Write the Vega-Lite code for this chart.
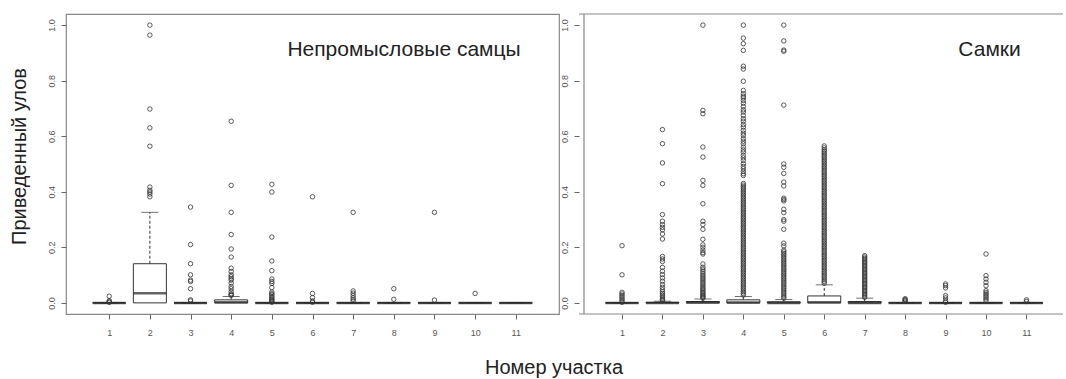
{
  "$schema": "https://vega.github.io/schema/vega-lite/v6.json",
  "background": "white",
  "padding": {"left": 8, "top": 13, "right": 0, "bottom": 0},
  "spacing": 0,
  "config": {
    "font": "Liberation Sans",
    "view": {"stroke": "#888", "strokeWidth": 1.2},
    "axis": {"grid": false, "domain": false, "tickSize": 5, "tickColor": "#666", "labelFontSize": 9, "labelColor": "#555", "titleFontWeight": "normal", "titleColor": "#222"}
  },
  "title": {"text": "Номер участка", "orient": "bottom", "anchor": "middle", "fontSize": 20, "fontWeight": "normal", "color": "#222", "offset": 20, "dx": 18},
  "datasets": {
    "one": [{"k": 1}],
    "boxL": [
      {"s": 1, "q1": 0, "med": 0, "q3": 0, "hi": 0},
      {"s": 2, "q1": 0, "med": 0.035, "q3": 0.141, "hi": 0.326},
      {"s": 3, "q1": 0, "med": 0, "q3": 0, "hi": 0},
      {"s": 4, "q1": 0, "med": 0.002, "q3": 0.011, "hi": 0.023},
      {"s": 5, "q1": 0, "med": 0, "q3": 0, "hi": 0},
      {"s": 6, "q1": 0, "med": 0, "q3": 0, "hi": 0},
      {"s": 7, "q1": 0, "med": 0, "q3": 0, "hi": 0},
      {"s": 8, "q1": 0, "med": 0, "q3": 0, "hi": 0},
      {"s": 9, "q1": 0, "med": 0, "q3": 0, "hi": 0},
      {"s": 10, "q1": 0, "med": 0, "q3": 0, "hi": 0},
      {"s": 11, "q1": 0, "med": 0, "q3": 0, "hi": 0}
    ],
    "boxR": [
      {"s": 1, "q1": 0, "med": 0, "q3": 0, "hi": 0},
      {"s": 2, "q1": 0, "med": 0, "q3": 0.002, "hi": 0.006},
      {"s": 3, "q1": 0, "med": 0.001, "q3": 0.005, "hi": 0.014},
      {"s": 4, "q1": 0, "med": 0.001, "q3": 0.011, "hi": 0.023},
      {"s": 5, "q1": 0, "med": 0, "q3": 0.004, "hi": 0.012},
      {"s": 6, "q1": 0, "med": 0.002, "q3": 0.025, "hi": 0.065},
      {"s": 7, "q1": 0, "med": 0, "q3": 0.005, "hi": 0.017},
      {"s": 8, "q1": 0, "med": 0, "q3": 0, "hi": 0},
      {"s": 9, "q1": 0, "med": 0, "q3": 0, "hi": 0},
      {"s": 10, "q1": 0, "med": 0, "q3": 0, "hi": 0},
      {"s": 11, "q1": 0, "med": 0, "q3": 0, "hi": 0}
    ],
    "outL": [
      {"s": 1, "v": 0.024}, {"s": 1, "v": 0.008}, {"s": 1, "v": 0.004}, {"s": 1, "v": 0.002},
      {"s": 2, "v": 0.382}, {"s": 2, "v": 0.392}, {"s": 2, "v": 0.399}, {"s": 2, "v": 0.405}, {"s": 2, "v": 0.417}, {"s": 2, "v": 0.564}, {"s": 2, "v": 0.63}, {"s": 2, "v": 0.698}, {"s": 2, "v": 0.964}, {"s": 2, "v": 1.0},
      {"s": 3, "v": 0.345}, {"s": 3, "v": 0.21}, {"s": 3, "v": 0.141}, {"s": 3, "v": 0.101}, {"s": 3, "v": 0.082}, {"s": 3, "v": 0.077}, {"s": 3, "v": 0.051}, {"s": 3, "v": 0.011}, {"s": 3, "v": 0.007},
      {"s": 4, "v": 0.654}, {"s": 4, "v": 0.423}, {"s": 4, "v": 0.326}, {"s": 4, "v": 0.246}, {"s": 4, "v": 0.194}, {"s": 4, "v": 0.165}, {"s": 4, "v": 0.125}, {"s": 4, "v": 0.113}, {"s": 4, "v": 0.101}, {"s": 4, "v": 0.094}, {"s": 4, "v": 0.087}, {"s": 4, "v": 0.082}, {"s": 4, "v": 0.071}, {"s": 4, "v": 0.059}, {"s": 4, "v": 0.051}, {"s": 4, "v": 0.041}, {"s": 4, "v": 0.033}, {"s": 4, "v": 0.029}, {"s": 4, "v": 0.027},
      {"s": 5, "v": 0.427}, {"s": 5, "v": 0.399}, {"s": 5, "v": 0.237}, {"s": 5, "v": 0.151}, {"s": 5, "v": 0.116}, {"s": 5, "v": 0.086}, {"s": 5, "v": 0.077}, {"s": 5, "v": 0.07}, {"s": 5, "v": 0.055}, {"s": 5, "v": 0.039}, {"s": 5, "v": 0.033}, {"s": 5, "v": 0.029}, {"s": 5, "v": 0.023}, {"s": 5, "v": 0.019}, {"s": 5, "v": 0.013}, {"s": 5, "v": 0.01}, {"s": 5, "v": 0.006}, {"s": 5, "v": 0.002},
      {"s": 6, "v": 0.382}, {"s": 6, "v": 0.034}, {"s": 6, "v": 0.019}, {"s": 6, "v": 0.007}, {"s": 6, "v": 0.002},
      {"s": 7, "v": 0.326}, {"s": 7, "v": 0.043}, {"s": 7, "v": 0.035}, {"s": 7, "v": 0.027}, {"s": 7, "v": 0.019}, {"s": 7, "v": 0.013}, {"s": 7, "v": 0.007},
      {"s": 8, "v": 0.051}, {"s": 8, "v": 0.013},
      {"s": 9, "v": 0.326}, {"s": 9, "v": 0.01},
      {"s": 10, "v": 0.034}
    ],
    "outR": [
      {"s": 1, "v": 0.206}, {"s": 1, "v": 0.101}, {"s": 1, "v": 0.038}, {"s": 1, "v": 0.032}, {"s": 1, "v": 0.026}, {"s": 1, "v": 0.02}, {"s": 1, "v": 0.014}, {"s": 1, "v": 0.008}, {"s": 1, "v": 0.002},
      {"s": 2, "v": 0.624}, {"s": 2, "v": 0.573}, {"s": 2, "v": 0.504}, {"s": 2, "v": 0.429}, {"s": 2, "v": 0.318}, {"s": 2, "v": 0.294}, {"s": 2, "v": 0.282}, {"s": 2, "v": 0.272}, {"s": 2, "v": 0.263}, {"s": 2, "v": 0.248}, {"s": 2, "v": 0.23}, {"s": 2, "v": 0.167}, {"s": 2, "v": 0.158}, {"s": 2, "v": 0.149}, {"s": 2, "v": 0.128}, {"s": 2, "v": 0.114}, {"s": 2, "v": 0.102}, {"s": 2, "v": 0.09}, {"s": 2, "v": 0.078}, {"s": 2, "v": 0.066}, {"s": 2, "v": 0.056}, {"s": 2, "v": 0.047}, {"s": 2, "v": 0.04}, {"s": 2, "v": 0.034}, {"s": 2, "v": 0.028}, {"s": 2, "v": 0.022}, {"s": 2, "v": 0.017}, {"s": 2, "v": 0.012}, {"s": 2, "v": 0.008},
      {"s": 3, "v": 1.0}, {"s": 3, "v": 0.693}, {"s": 3, "v": 0.681}, {"s": 3, "v": 0.561}, {"s": 3, "v": 0.525}, {"s": 3, "v": 0.441}, {"s": 3, "v": 0.423}, {"s": 3, "v": 0.357}, {"s": 3, "v": 0.294}, {"s": 3, "v": 0.282}, {"s": 3, "v": 0.265}, {"s": 3, "v": 0.229}, {"s": 3, "v": 0.209}, {"s": 3, "v": 0.2}, {"s": 3, "v": 0.19}, {"s": 3, "v": 0.181}, {"s": 3, "v": 0.176}, {"s": 3, "v": 0.14}, {"s": 3, "v": 0.128}, {"s": 3, "v": 0.121}, {"s": 3, "v": 0.114}, {"s": 3, "v": 0.107}, {"s": 3, "v": 0.1}, {"s": 3, "v": 0.094}, {"s": 3, "v": 0.088}, {"s": 3, "v": 0.082}, {"s": 3, "v": 0.076}, {"s": 3, "v": 0.07}, {"s": 3, "v": 0.064}, {"s": 3, "v": 0.058}, {"s": 3, "v": 0.052}, {"s": 3, "v": 0.047}, {"s": 3, "v": 0.042}, {"s": 3, "v": 0.037}, {"s": 3, "v": 0.032}, {"s": 3, "v": 0.028}, {"s": 3, "v": 0.024}, {"s": 3, "v": 0.02}, {"s": 3, "v": 0.017},
      {"s": 4, "v": 1.0}, {"s": 4, "v": 0.953}, {"s": 4, "v": 0.933}, {"s": 4, "v": 0.909}, {"s": 4, "v": 0.852}, {"s": 4, "v": 0.842}, {"s": 4, "v": 0.798}, {"s": 4, "v": 0.765}, {"s": 4, "v": 0.753}, {"s": 4, "v": 0.744}, {"s": 4, "v": 0.738}, {"s": 4, "v": 0.729}, {"s": 4, "v": 0.719}, {"s": 4, "v": 0.707}, {"s": 4, "v": 0.695}, {"s": 4, "v": 0.687}, {"s": 4, "v": 0.675}, {"s": 4, "v": 0.663}, {"s": 4, "v": 0.654}, {"s": 4, "v": 0.642}, {"s": 4, "v": 0.633}, {"s": 4, "v": 0.621}, {"s": 4, "v": 0.611}, {"s": 4, "v": 0.603}, {"s": 4, "v": 0.591}, {"s": 4, "v": 0.582}, {"s": 4, "v": 0.573}, {"s": 4, "v": 0.561}, {"s": 4, "v": 0.551}, {"s": 4, "v": 0.543}, {"s": 4, "v": 0.531}, {"s": 4, "v": 0.522}, {"s": 4, "v": 0.513}, {"s": 4, "v": 0.501}, {"s": 4, "v": 0.491}, {"s": 4, "v": 0.483}, {"s": 4, "v": 0.474}, {"s": 4, "v": 0.465}, {"s": 4, "v": 0.459},
      {"s": 4, "v": 0.43}, {"s": 4, "v": 0.424}, {"s": 4, "v": 0.418}, {"s": 4, "v": 0.412}, {"s": 4, "v": 0.406}, {"s": 4, "v": 0.4}, {"s": 4, "v": 0.394}, {"s": 4, "v": 0.388}, {"s": 4, "v": 0.382}, {"s": 4, "v": 0.376}, {"s": 4, "v": 0.37}, {"s": 4, "v": 0.364}, {"s": 4, "v": 0.358}, {"s": 4, "v": 0.352}, {"s": 4, "v": 0.346}, {"s": 4, "v": 0.34}, {"s": 4, "v": 0.334}, {"s": 4, "v": 0.328}, {"s": 4, "v": 0.322}, {"s": 4, "v": 0.316}, {"s": 4, "v": 0.31}, {"s": 4, "v": 0.304}, {"s": 4, "v": 0.298}, {"s": 4, "v": 0.292}, {"s": 4, "v": 0.286}, {"s": 4, "v": 0.28}, {"s": 4, "v": 0.274}, {"s": 4, "v": 0.268}, {"s": 4, "v": 0.262}, {"s": 4, "v": 0.256}, {"s": 4, "v": 0.25}, {"s": 4, "v": 0.244}, {"s": 4, "v": 0.238}, {"s": 4, "v": 0.232}, {"s": 4, "v": 0.226}, {"s": 4, "v": 0.22}, {"s": 4, "v": 0.214}, {"s": 4, "v": 0.208}, {"s": 4, "v": 0.202}, {"s": 4, "v": 0.196}, {"s": 4, "v": 0.19}, {"s": 4, "v": 0.184}, {"s": 4, "v": 0.178}, {"s": 4, "v": 0.172}, {"s": 4, "v": 0.166}, {"s": 4, "v": 0.16}, {"s": 4, "v": 0.154}, {"s": 4, "v": 0.148}, {"s": 4, "v": 0.142}, {"s": 4, "v": 0.136}, {"s": 4, "v": 0.13}, {"s": 4, "v": 0.124}, {"s": 4, "v": 0.118}, {"s": 4, "v": 0.112}, {"s": 4, "v": 0.106}, {"s": 4, "v": 0.1}, {"s": 4, "v": 0.094}, {"s": 4, "v": 0.088}, {"s": 4, "v": 0.082}, {"s": 4, "v": 0.076}, {"s": 4, "v": 0.07}, {"s": 4, "v": 0.064}, {"s": 4, "v": 0.058}, {"s": 4, "v": 0.052}, {"s": 4, "v": 0.046}, {"s": 4, "v": 0.04}, {"s": 4, "v": 0.034}, {"s": 4, "v": 0.028},
      {"s": 5, "v": 1.0}, {"s": 5, "v": 0.943}, {"s": 5, "v": 0.91}, {"s": 5, "v": 0.906}, {"s": 5, "v": 0.712}, {"s": 5, "v": 0.5}, {"s": 5, "v": 0.488}, {"s": 5, "v": 0.466}, {"s": 5, "v": 0.435}, {"s": 5, "v": 0.421}, {"s": 5, "v": 0.377}, {"s": 5, "v": 0.372}, {"s": 5, "v": 0.367}, {"s": 5, "v": 0.337}, {"s": 5, "v": 0.325}, {"s": 5, "v": 0.3}, {"s": 5, "v": 0.294}, {"s": 5, "v": 0.265}, {"s": 5, "v": 0.215}, {"s": 5, "v": 0.205},
      {"s": 5, "v": 0.19}, {"s": 5, "v": 0.184}, {"s": 5, "v": 0.178}, {"s": 5, "v": 0.172}, {"s": 5, "v": 0.166}, {"s": 5, "v": 0.16}, {"s": 5, "v": 0.154}, {"s": 5, "v": 0.148}, {"s": 5, "v": 0.142}, {"s": 5, "v": 0.136}, {"s": 5, "v": 0.13}, {"s": 5, "v": 0.124}, {"s": 5, "v": 0.118}, {"s": 5, "v": 0.112}, {"s": 5, "v": 0.106}, {"s": 5, "v": 0.1}, {"s": 5, "v": 0.094}, {"s": 5, "v": 0.088}, {"s": 5, "v": 0.082}, {"s": 5, "v": 0.076}, {"s": 5, "v": 0.07}, {"s": 5, "v": 0.064}, {"s": 5, "v": 0.058}, {"s": 5, "v": 0.052}, {"s": 5, "v": 0.046}, {"s": 5, "v": 0.04}, {"s": 5, "v": 0.034}, {"s": 5, "v": 0.028}, {"s": 5, "v": 0.022}, {"s": 5, "v": 0.017},
      {"s": 6, "v": 0.565}, {"s": 6, "v": 0.558}, {"s": 6, "v": 0.551}, {"s": 6, "v": 0.545}, {"s": 6, "v": 0.539}, {"s": 6, "v": 0.533}, {"s": 6, "v": 0.527}, {"s": 6, "v": 0.521}, {"s": 6, "v": 0.515}, {"s": 6, "v": 0.509}, {"s": 6, "v": 0.503}, {"s": 6, "v": 0.497}, {"s": 6, "v": 0.491}, {"s": 6, "v": 0.485}, {"s": 6, "v": 0.479}, {"s": 6, "v": 0.473}, {"s": 6, "v": 0.467}, {"s": 6, "v": 0.461}, {"s": 6, "v": 0.455}, {"s": 6, "v": 0.449}, {"s": 6, "v": 0.443}, {"s": 6, "v": 0.437}, {"s": 6, "v": 0.431}, {"s": 6, "v": 0.425}, {"s": 6, "v": 0.419}, {"s": 6, "v": 0.413}, {"s": 6, "v": 0.407}, {"s": 6, "v": 0.401}, {"s": 6, "v": 0.395}, {"s": 6, "v": 0.389}, {"s": 6, "v": 0.383}, {"s": 6, "v": 0.377}, {"s": 6, "v": 0.371}, {"s": 6, "v": 0.365}, {"s": 6, "v": 0.359}, {"s": 6, "v": 0.353}, {"s": 6, "v": 0.347}, {"s": 6, "v": 0.341}, {"s": 6, "v": 0.335}, {"s": 6, "v": 0.329}, {"s": 6, "v": 0.323}, {"s": 6, "v": 0.317}, {"s": 6, "v": 0.311}, {"s": 6, "v": 0.305}, {"s": 6, "v": 0.299}, {"s": 6, "v": 0.293}, {"s": 6, "v": 0.287}, {"s": 6, "v": 0.281}, {"s": 6, "v": 0.275}, {"s": 6, "v": 0.269}, {"s": 6, "v": 0.263}, {"s": 6, "v": 0.257}, {"s": 6, "v": 0.251}, {"s": 6, "v": 0.245}, {"s": 6, "v": 0.239}, {"s": 6, "v": 0.233}, {"s": 6, "v": 0.227}, {"s": 6, "v": 0.221}, {"s": 6, "v": 0.215}, {"s": 6, "v": 0.209}, {"s": 6, "v": 0.203}, {"s": 6, "v": 0.197}, {"s": 6, "v": 0.191}, {"s": 6, "v": 0.185}, {"s": 6, "v": 0.179}, {"s": 6, "v": 0.173}, {"s": 6, "v": 0.167}, {"s": 6, "v": 0.161}, {"s": 6, "v": 0.155}, {"s": 6, "v": 0.149}, {"s": 6, "v": 0.143}, {"s": 6, "v": 0.137}, {"s": 6, "v": 0.131}, {"s": 6, "v": 0.125}, {"s": 6, "v": 0.119}, {"s": 6, "v": 0.113}, {"s": 6, "v": 0.107}, {"s": 6, "v": 0.101}, {"s": 6, "v": 0.095}, {"s": 6, "v": 0.089}, {"s": 6, "v": 0.083}, {"s": 6, "v": 0.077}, {"s": 6, "v": 0.071},
      {"s": 7, "v": 0.17}, {"s": 7, "v": 0.165}, {"s": 7, "v": 0.16}, {"s": 7, "v": 0.155}, {"s": 7, "v": 0.15}, {"s": 7, "v": 0.145}, {"s": 7, "v": 0.14}, {"s": 7, "v": 0.135}, {"s": 7, "v": 0.13}, {"s": 7, "v": 0.125}, {"s": 7, "v": 0.12}, {"s": 7, "v": 0.115}, {"s": 7, "v": 0.11}, {"s": 7, "v": 0.105}, {"s": 7, "v": 0.1}, {"s": 7, "v": 0.095}, {"s": 7, "v": 0.09}, {"s": 7, "v": 0.085}, {"s": 7, "v": 0.08}, {"s": 7, "v": 0.075}, {"s": 7, "v": 0.07}, {"s": 7, "v": 0.065}, {"s": 7, "v": 0.06}, {"s": 7, "v": 0.055}, {"s": 7, "v": 0.05}, {"s": 7, "v": 0.045}, {"s": 7, "v": 0.04}, {"s": 7, "v": 0.035}, {"s": 7, "v": 0.03}, {"s": 7, "v": 0.025}, {"s": 7, "v": 0.02},
      {"s": 8, "v": 0.015}, {"s": 8, "v": 0.012}, {"s": 8, "v": 0.009}, {"s": 8, "v": 0.006},
      {"s": 9, "v": 0.068}, {"s": 9, "v": 0.062}, {"s": 9, "v": 0.054}, {"s": 9, "v": 0.026}, {"s": 9, "v": 0.018}, {"s": 9, "v": 0.008}, {"s": 9, "v": 0.002},
      {"s": 10, "v": 0.176}, {"s": 10, "v": 0.098}, {"s": 10, "v": 0.086}, {"s": 10, "v": 0.074}, {"s": 10, "v": 0.062}, {"s": 10, "v": 0.044}, {"s": 10, "v": 0.038}, {"s": 10, "v": 0.032}, {"s": 10, "v": 0.026}, {"s": 10, "v": 0.02}, {"s": 10, "v": 0.014}, {"s": 10, "v": 0.008},
      {"s": 11, "v": 0.011}, {"s": 11, "v": 0.005}
    ]
  },
  "hconcat": [
    {
      "width": 493,
      "height": 300,
      "view": {"stroke": "#888", "strokeWidth": 1.2},
      "layer": [
        {
          "data": {"name": "boxL"},
          "mark": {"type": "rule", "strokeDash": [3, 2], "color": "#333", "strokeWidth": 1},
          "encoding": {
            "x": {"field": "s", "type": "quantitative", "scale": {"domain": [0.06, 11.94], "nice": false, "zero": false}, "axis": {"values": [1, 2, 3, 4, 5, 6, 7, 8, 9, 10, 11], "title": null, "labelPadding": 9}},
            "y": {"field": "q3", "type": "quantitative", "scale": {"domain": [-0.04, 1.04], "nice": false, "zero": false}, "axis": {"values": [0, 0.2, 0.4, 0.6, 0.8, 1.0], "format": ".1f", "labelAngle": -90, "labelPadding": 5, "title": "Приведенный улов", "titleFontSize": 20, "titlePadding": 18, "titleY": 142}},
            "y2": {"field": "hi"}
          }
        },
        {
          "data": {"name": "boxL"},
          "mark": {"type": "tick", "orient": "horizontal", "size": 17, "thickness": 1, "color": "#333"},
          "encoding": {"x": {"field": "s", "type": "quantitative"}, "y": {"field": "hi", "type": "quantitative"}}
        },
        {
          "data": {"name": "boxL"},
          "mark": {"type": "bar", "orient": "vertical", "size": 33, "fill": "white", "stroke": "#333", "strokeWidth": 1},
          "encoding": {"x": {"field": "s", "type": "quantitative"}, "y": {"field": "q1", "type": "quantitative"}, "y2": {"field": "q3"}}
        },
        {
          "data": {"name": "boxL"},
          "mark": {"type": "tick", "orient": "horizontal", "size": 33, "thickness": 2.5, "color": "#222"},
          "encoding": {"x": {"field": "s", "type": "quantitative"}, "y": {"field": "med", "type": "quantitative"}}
        },
        {
          "data": {"name": "outL"},
          "mark": {"type": "point", "shape": "circle", "filled": false, "size": 20, "stroke": "#333", "strokeWidth": 0.8, "opacity": 1},
          "encoding": {"x": {"field": "s", "type": "quantitative"}, "y": {"field": "v", "type": "quantitative"}}
        },
        {
          "data": {"name": "one"},
          "mark": {"type": "text", "text": "Непромысловые самцы", "align": "right", "baseline": "middle", "fontSize": 21, "color": "#222"},
          "encoding": {"x": {"datum": 11.12, "type": "quantitative"}, "y": {"datum": 0.909, "type": "quantitative"}}
        }
      ]
    },
    {
      "width": 484,
      "height": 300,
      "view": {"stroke": null},
      "layer": [
        {
          "data": {"name": "boxR"},
          "mark": {"type": "rule", "strokeDash": [3, 2], "color": "#333", "strokeWidth": 1},
          "encoding": {
            "x": {"field": "s", "type": "quantitative", "scale": {"domain": [0.06, 11.78], "nice": false, "zero": false}, "axis": {"values": [1, 2, 3, 4, 5, 6, 7, 8, 9, 10, 11], "title": null, "labelPadding": 9}},
            "y": {"field": "q3", "type": "quantitative", "scale": {"domain": [-0.04, 1.04], "nice": false, "zero": false}, "axis": {"values": [0, 0.2, 0.4, 0.6, 0.8, 1.0], "format": ".1f", "labelAngle": -90, "labelPadding": 5, "title": null}},
            "y2": {"field": "hi"}
          }
        },
        {
          "data": {"name": "boxR"},
          "mark": {"type": "tick", "orient": "horizontal", "size": 17, "thickness": 1, "color": "#333"},
          "encoding": {"x": {"field": "s", "type": "quantitative"}, "y": {"field": "hi", "type": "quantitative"}}
        },
        {
          "data": {"name": "boxR"},
          "mark": {"type": "bar", "orient": "vertical", "size": 33, "fill": "white", "stroke": "#333", "strokeWidth": 1},
          "encoding": {"x": {"field": "s", "type": "quantitative"}, "y": {"field": "q1", "type": "quantitative"}, "y2": {"field": "q3"}}
        },
        {
          "data": {"name": "boxR"},
          "mark": {"type": "tick", "orient": "horizontal", "size": 33, "thickness": 2.5, "color": "#222"},
          "encoding": {"x": {"field": "s", "type": "quantitative"}, "y": {"field": "med", "type": "quantitative"}}
        },
        {
          "data": {"name": "outR"},
          "mark": {"type": "point", "shape": "circle", "filled": false, "size": 20, "stroke": "#333", "strokeWidth": 0.8, "opacity": 1},
          "encoding": {"x": {"field": "s", "type": "quantitative"}, "y": {"field": "v", "type": "quantitative"}}
        },
        {
          "data": {"name": "one"},
          "mark": {"type": "text", "text": "Самки", "align": "right", "baseline": "middle", "fontSize": 21, "color": "#222"},
          "encoding": {"x": {"datum": 10.86, "type": "quantitative"}, "y": {"datum": 0.909, "type": "quantitative"}}
        },
        {
          "data": {"name": "one"},
          "mark": {"type": "rule", "color": "#888", "strokeWidth": 1.2},
          "encoding": {"y": {"datum": 1.04, "type": "quantitative"}}
        },
        {
          "data": {"name": "one"},
          "mark": {"type": "rule", "color": "#888", "strokeWidth": 1.2},
          "encoding": {"y": {"datum": -0.04, "type": "quantitative"}}
        },
        {
          "data": {"name": "one"},
          "mark": {"type": "rule", "color": "#888", "strokeWidth": 1.2},
          "encoding": {"x": {"datum": 0.06, "type": "quantitative"}}
        }
      ]
    }
  ]
}
